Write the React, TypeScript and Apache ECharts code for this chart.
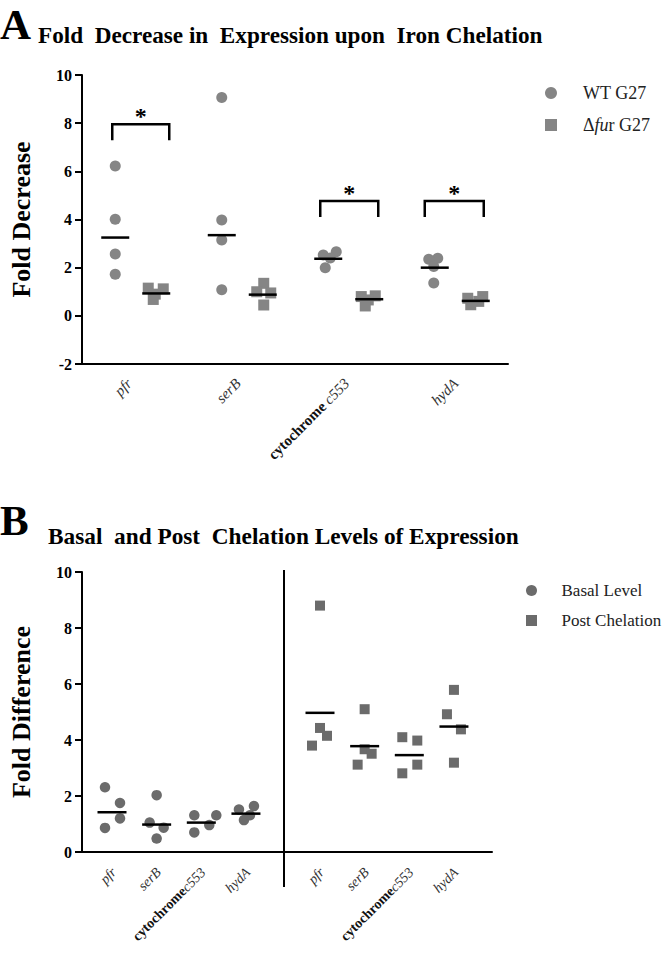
import React, { useEffect, useRef } from "react";
import * as echarts from "echarts";

// ---------- DATA ----------
const GENES = ["pfr", "serB", "cytochrome c553", "hydA"];

// Panel A: fold decrease in expression upon iron chelation
const WT_G27 = [
  [6.22, 4.01, 2.57, 1.73],
  [9.07, 3.98, 3.15, 1.08],
  [2.66, 2.53, 2.4, 2.0],
  [2.39, 2.35, 2.05, 1.36],
];
const FUR_G27 = [
  [1.15, 1.12, 0.9, 0.68],
  [1.35, 1.0, 0.95, 0.45],
  [0.83, 0.8, 0.66, 0.41],
  [0.8, 0.73, 0.6, 0.46],
];
const WT_MEDIAN = [3.25, 3.35, 2.37, 2.0];
const FUR_MEDIAN = [0.93, 0.88, 0.69, 0.62];
const SIG_GENES = [0, 2, 3];
const SIG_HEIGHT = [7.95, 4.77, 4.77];
const A_Y_MIN = -2;
const A_Y_MAX = 10;
const A_Y_STEP = 2;

// Panel B: basal and post chelation levels of expression
const BASAL = [
  [2.31, 1.75, 1.2, 0.86],
  [2.03, 1.05, 0.87, 0.48],
  [1.31, 1.31, 0.96, 0.7],
  [1.52, 1.64, 1.14, 1.31],
];
const POST = [
  [8.8, 4.43, 4.15, 3.8],
  [5.1, 3.67, 3.51, 3.12],
  [4.1, 3.98, 3.12, 2.81],
  [5.79, 4.92, 4.38, 3.19],
];
const BASAL_MEDIAN = [1.42, 0.98, 1.05, 1.37];
const POST_MEDIAN = [4.97, 3.78, 3.46, 4.48];
const B_Y_MIN = 0;
const B_Y_MAX = 10;
const B_Y_STEP = 2;

// ---------- LAYOUT (pixels, not data) ----------
const A_WT_DX = [
  [-20, -20, -20, -20],
  [-20, -20, -20, -20],
  [-12, -25, -18, -23],
  [-17, -26, -21, -21],
];
const A_FUR_DX = [
  [13, 28, 20, 18],
  [22, 15, 29, 22],
  [27, 13, 20, 17],
  [28, 13, 24, 16],
];
const B_BASAL_DX = [
  [-7, 8, 8, -7],
  [0, -7, 7, 0],
  [-7, 15, 8, -7],
  [-7, 8, -2, 4],
];
const B_POST_DX = [
  [0, 0, 7, -8],
  [0, 0, 7, -7],
  [-7, 8, 8, -7],
  [0, -7, 7, 0],
];
const BRACKET_DX = [[-23, 34], [-28, 30], [-30, 29]];

const FONT = "Liberation Serif";
const GREY_A = "#858585";
const GREY_B = "#6b6b6b";

const GA = { left: 73, top: 75, width: 435, height: 289 };
const GB = { left: 73, top: 572, width: 419, height: 280 };
const BAND_B = 44.65;
const B_LEFT_FIRST = 112;
const B_RIGHT_FIRST = 320;
const SEP_X = 284;

const flat = (vals: number[][]) =>
  vals.flatMap((row, gi) => row.map((v) => [gi, v]));
const medData = (vals: number[]) => vals.map((v, gi) => [gi, v]);

function pointRender(kind: "circle" | "square", size: number, color: string, dx: number[]) {
  return (params: any, api: any) => {
    const p = api.coord([api.value(0), api.value(1)]);
    const x = p[0] + dx[params.dataIndex];
    const y = p[1];
    if (kind === "circle") {
      return { type: "circle", shape: { cx: x, cy: y, r: size / 2 }, style: { fill: color } };
    }
    return {
      type: "rect",
      shape: { x: x - size / 2, y: y - size / 2, width: size, height: size },
      style: { fill: color },
    };
  };
}

function medianRender(off: number, halfW: number) {
  return (_params: any, api: any) => {
    const p = api.coord([api.value(0), api.value(1)]);
    return {
      type: "line",
      shape: { x1: p[0] + off - halfW, y1: p[1], x2: p[0] + off + halfW, y2: p[1] },
      style: { stroke: "#000", lineWidth: 2.5 },
    };
  };
}

function bracketRender(params: any, api: any) {
  const p = api.coord([api.value(0), api.value(1)]);
  const d = BRACKET_DX[params.dataIndex];
  const x1 = p[0] + d[0];
  const x2 = p[0] + d[1];
  const y = p[1];
  return {
    type: "group",
    children: [
      {
        type: "polyline",
        shape: { points: [[x1, y + 16], [x1, y], [x2, y], [x2, y + 16]] },
        style: { stroke: "#000", lineWidth: 2.5, fill: null },
      },
      {
        type: "text",
        x: (x1 + x2) / 2,
        y: y - 8,
        style: {
          text: "*",
          fontFamily: FONT,
          fontSize: 24,
          fontWeight: "bold",
          fill: "#000",
          align: "center",
          verticalAlign: "middle",
        },
      },
    ],
  };
}

// ---------- rotated gene labels (drawn in an overlay instance) ----------
const A_TICKS = GENES.map((_, i) => GA.left + ((i + 0.5) * GA.width) / GENES.length);
const B_TICKS_L = GENES.map((_, i) => B_LEFT_FIRST + i * BAND_B);
const B_TICKS_R = GENES.map((_, i) => B_RIGHT_FIRST + i * BAND_B);

function textWidth(text: string, size: number, weight: string, style: string) {
  try {
    const t: any = new (echarts as any).graphic.Text({
      style: { text, fontFamily: FONT, fontSize: size, fontWeight: weight, fontStyle: style },
    });
    const w = t.getBoundingRect().width;
    if (w > 0) return w;
  } catch (e) {
    /* fall back */
  }
  return text.length * size * 0.45;
}

const ROT = Math.PI / 4;
const DIR = [Math.cos(ROT), -Math.sin(ROT)];

function piece(x: number, y: number, text: string, size: number, bold: boolean) {
  return {
    type: "text",
    x,
    y,
    rotation: ROT,
    style: {
      text,
      fontFamily: FONT,
      fontSize: size,
      fontWeight: bold ? "bold" : "normal",
      fontStyle: bold ? "normal" : "italic",
      fill: bold ? "#111" : "#333",
      align: "right",
      verticalAlign: "middle",
    },
  };
}

function geneLabels(ticks: number[], axisY: number, size: number, dx: number, dy: number, spaced: boolean) {
  const out: any[] = [];
  ticks.forEach((tx, i) => {
    const x = tx + dx;
    const y = axisY + dy;
    const g = GENES[i];
    if (g === "cytochrome c553") {
      const tail = "c553";
      const w = textWidth(tail, size, "normal", "italic") + (spaced ? size * 0.25 : 0);
      out.push(piece(x, y, tail, size, false));
      out.push(piece(x - DIR[0] * w, y - DIR[1] * w, "cytochrome", size, true));
    } else {
      out.push(piece(x, y, g, size, false));
    }
  });
  return out;
}

const yLabel = {
  fontFamily: FONT,
  fontWeight: "bold",
  fontSize: 16,
  color: "#000",
  margin: 10,
};
const blackLine = { lineStyle: { color: "#000", width: 2 } };

const legendRich = {
  n: { fontFamily: FONT, fontSize: 18, color: "#222" },
  i: { fontFamily: FONT, fontSize: 18, color: "#222", fontStyle: "italic" },
};
const SQUARE_ICON = "path://M0 0H10V10H0Z";

const catAxis = (gridIndex: number, showLine: boolean) => ({
  gridIndex,
  type: "category",
  data: GENES,
  boundaryGap: true,
  axisLine: showLine ? { onZero: false, ...blackLine } : { show: false, onZero: false },
  axisTick: { alignWithLabel: true, length: 7, ...blackLine },
  axisLabel: { show: false },
  splitLine: { show: false },
});

const option: any = {
  animation: false,
  grid: [
    { ...GA },
    { ...GB },
    { left: B_LEFT_FIRST - BAND_B / 2, top: GB.top, width: 4 * BAND_B, height: GB.height },
    { left: B_RIGHT_FIRST - BAND_B / 2, top: GB.top, width: 4 * BAND_B, height: GB.height },
  ],
  xAxis: [
    catAxis(0, true),
    {
      gridIndex: 1,
      type: "value",
      min: 0,
      max: 1,
      axisLine: { show: true, onZero: false, ...blackLine },
      axisTick: { show: false },
      axisLabel: { show: false },
      splitLine: { show: false },
    },
    catAxis(2, false),
    catAxis(3, false),
  ],
  yAxis: [
    {
      gridIndex: 0,
      type: "value",
      min: A_Y_MIN,
      max: A_Y_MAX,
      interval: A_Y_STEP,
      name: "Fold Decrease",
      nameLocation: "middle",
      nameGap: 48,
      nameTextStyle: { fontFamily: FONT, fontWeight: "bold", fontSize: 26, color: "#000" },
      axisLine: { show: true, ...blackLine },
      axisTick: { show: true, length: 7, ...blackLine },
      axisLabel: yLabel,
      splitLine: { show: false },
    },
    {
      gridIndex: 1,
      type: "value",
      min: B_Y_MIN,
      max: B_Y_MAX,
      interval: B_Y_STEP,
      name: "Fold Difference",
      nameLocation: "middle",
      nameGap: 48,
      nameTextStyle: { fontFamily: FONT, fontWeight: "bold", fontSize: 26, color: "#000" },
      axisLine: { show: true, ...blackLine },
      axisTick: { show: true, length: 7, ...blackLine },
      axisLabel: yLabel,
      splitLine: { show: false },
    },
    { gridIndex: 2, type: "value", min: B_Y_MIN, max: B_Y_MAX, show: false },
    { gridIndex: 3, type: "value", min: B_Y_MIN, max: B_Y_MAX, show: false },
  ],
  legend: [
    {
      orient: "vertical",
      left: 540,
      top: 79,
      itemWidth: 54,
      itemHeight: 12,
      itemGap: 14,
      selectedMode: false,
      data: [
        { name: "WT G27", icon: "circle" },
        { name: "Δfur G27", icon: SQUARE_ICON },
      ],
      formatter: (n: string) => (n === "Δfur G27" ? "{n|Δ}{i|fu}{n|r G27}" : "{n|" + n + "}"),
      textStyle: { fontFamily: FONT, fontSize: 18, color: "#222", rich: legendRich },
    },
    {
      orient: "vertical",
      left: 521,
      top: 577,
      itemWidth: 50,
      itemHeight: 11,
      itemGap: 13,
      selectedMode: false,
      data: [
        { name: "Basal Level", icon: "circle" },
        { name: "Post Chelation", icon: SQUARE_ICON },
      ],
      textStyle: { fontFamily: FONT, fontSize: 17, color: "#222" },
    },
  ],
  graphic: [
    {
      type: "text",
      x: 0,
      y: 24,
      style: { text: "A", fontFamily: FONT, fontSize: 43, fontWeight: "bold", fill: "#000", verticalAlign: "middle" },
    },
    {
      type: "text",
      x: 38,
      y: 35,
      style: {
        text: "Fold  Decrease in  Expression upon  Iron Chelation",
        fontFamily: FONT,
        fontSize: 23.2,
        fontWeight: "bold",
        fill: "#000",
        verticalAlign: "middle",
      },
    },
    {
      type: "text",
      x: 0,
      y: 520,
      style: { text: "B", fontFamily: FONT, fontSize: 43, fontWeight: "bold", fill: "#000", verticalAlign: "middle" },
    },
    {
      type: "text",
      x: 48,
      y: 536,
      style: {
        text: "Basal  and Post  Chelation Levels of Expression",
        fontFamily: FONT,
        fontSize: 23.3,
        fontWeight: "bold",
        fill: "#000",
        verticalAlign: "middle",
      },
    },
    {
      type: "line",
      shape: { x1: SEP_X, y1: GB.top - 2, x2: SEP_X, y2: GB.top + GB.height + 35 },
      style: { stroke: "#000", lineWidth: 2 },
    },
  ],
  series: [
    {
      name: "WT G27",
      type: "custom",
      xAxisIndex: 0,
      yAxisIndex: 0,
      itemStyle: { color: GREY_A },
      data: flat(WT_G27),
      renderItem: pointRender("circle", 11, GREY_A, A_WT_DX.flat()),
    },
    {
      name: "Δfur G27",
      type: "custom",
      xAxisIndex: 0,
      yAxisIndex: 0,
      itemStyle: { color: GREY_A },
      data: flat(FUR_G27),
      renderItem: pointRender("square", 11, GREY_A, A_FUR_DX.flat()),
    },
    {
      name: "WT median",
      type: "custom",
      xAxisIndex: 0,
      yAxisIndex: 0,
      z: 3,
      data: medData(WT_MEDIAN),
      renderItem: medianRender(-20, 14),
    },
    {
      name: "fur median",
      type: "custom",
      xAxisIndex: 0,
      yAxisIndex: 0,
      z: 3,
      data: medData(FUR_MEDIAN),
      renderItem: medianRender(21, 14),
    },
    {
      name: "significance",
      type: "custom",
      xAxisIndex: 0,
      yAxisIndex: 0,
      data: SIG_GENES.map((g, i) => [g, SIG_HEIGHT[i]]),
      renderItem: bracketRender,
    },
    {
      name: "Basal Level",
      type: "custom",
      xAxisIndex: 2,
      yAxisIndex: 2,
      itemStyle: { color: GREY_B },
      data: flat(BASAL),
      renderItem: pointRender("circle", 10.5, GREY_B, B_BASAL_DX.flat()),
    },
    {
      name: "Post Chelation",
      type: "custom",
      xAxisIndex: 3,
      yAxisIndex: 3,
      itemStyle: { color: GREY_B },
      data: flat(POST),
      renderItem: pointRender("square", 10, GREY_B, B_POST_DX.flat()),
    },
    {
      name: "basal median",
      type: "custom",
      xAxisIndex: 2,
      yAxisIndex: 2,
      z: 3,
      data: medData(BASAL_MEDIAN),
      renderItem: medianRender(0, 14.5),
    },
    {
      name: "post median",
      type: "custom",
      xAxisIndex: 3,
      yAxisIndex: 3,
      z: 3,
      data: medData(POST_MEDIAN),
      renderItem: medianRender(0, 14.5),
    },
  ],
};

export default function App() {
  const ref = useRef<HTMLDivElement>(null);
  const labelRef = useRef<HTMLDivElement>(null);
  useEffect(() => {
    document.body.style.margin = "0";
    const chart = echarts.init(ref.current as HTMLDivElement, null, { renderer: "svg" });
    chart.setOption(option);
    const labels = echarts.init(labelRef.current as HTMLDivElement, null, { renderer: "svg" });
    labels.setOption({
      animation: false,
      graphic: [
        ...geneLabels(A_TICKS, GA.top + GA.height, 15, 2, 17, true),
        ...geneLabels(B_TICKS_L, GB.top + GB.height, 14, 2, 18, false),
        ...geneLabels(B_TICKS_R, GB.top + GB.height, 14, 2, 18, false),
      ],
    });
    return () => {
      labels.dispose();
      chart.dispose();
    };
  }, []);
  return (
    <div style={{ position: "relative", width: 666, height: 954 }}>
      <div ref={ref} style={{ position: "absolute", left: 0, top: 0, width: 666, height: 954 }} />
      <div
        ref={labelRef}
        style={{ position: "absolute", left: 0, top: 0, width: 666, height: 954, pointerEvents: "none" }}
      />
    </div>
  );
}
